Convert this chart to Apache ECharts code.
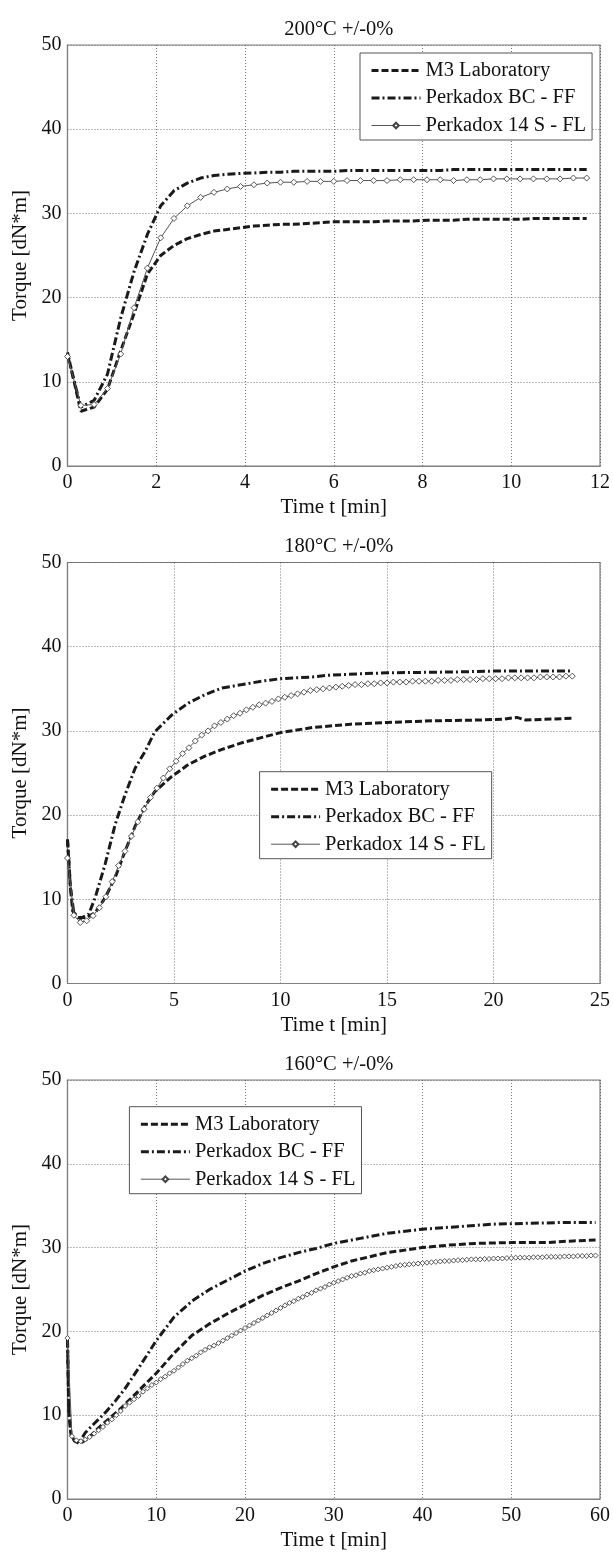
<!DOCTYPE html>
<html>
<head>
<meta charset="utf-8">
<script src="https://cdn.jsdelivr.net/npm/echarts@6/dist/echarts.min.js"></script>
<style>
html,body{margin:0;padding:0;background:#fff;}
#chart{width:613px;height:1552px;}
</style>
</head>
<body>
<div id="chart"></div>
<script>
// ---------- DATA ----------
const seriesNames = ['M3 Laboratory', 'Perkadox BC - FF', 'Perkadox 14 S - FL'];
const plotTitles = ['200°C +/-0%', '180°C +/-0%', '160°C +/-0%'];
const xMaxes = [12, 25, 60];
const xIntervals = [2, 5, 10];
const yTicks = [0, 10, 20, 30, 40, 50];

// Plot 1 (200 °C): samples every 0.3 min
const p1Step = 0.3;
const p1_M3 = [13.5, 6.5, 7.0, 9.1, 13.7, 18.1, 22.8, 25.0, 26.2, 27.0,
  27.5, 27.9, 28.1, 28.3, 28.5, 28.6, 28.7, 28.7, 28.8, 28.9,
  29.0, 29.0, 29.0, 29.0, 29.1, 29.1, 29.1, 29.2, 29.2, 29.2,
  29.3, 29.3, 29.3, 29.3, 29.3, 29.4, 29.4, 29.4, 29.4, 29.4];
const p1_BC = [13.2, 7.0, 7.8, 10.9, 17.6, 23.1, 27.5, 30.9, 32.7, 33.6,
  34.2, 34.5, 34.65, 34.75, 34.8, 34.9, 34.9, 35.0, 35.0, 35.0,
  35.0, 35.1, 35.1, 35.1, 35.1, 35.1, 35.1, 35.1, 35.1, 35.2,
  35.2, 35.2, 35.2, 35.2, 35.2, 35.2, 35.2, 35.2, 35.2, 35.2];
const p1_14S = [13.0, 7.2, 7.3, 9.2, 13.3, 18.8, 23.5, 27.1, 29.4, 30.9,
  31.9, 32.5, 32.9, 33.2, 33.4, 33.6, 33.7, 33.7, 33.8, 33.8,
  33.8, 33.9, 33.9, 33.9, 33.9, 34.0, 34.0, 34.0, 34.0, 33.9,
  34.0, 34.0, 34.1, 34.1, 34.1, 34.1, 34.1, 34.1, 34.2, 34.2];

// Plot 2 (180 °C)
const p2_M3_t = [0, 0.13, 0.24, 0.5, 0.9, 1.3, 1.77, 2.24, 2.7, 3.18, 3.65, 4.1, 4.9, 5.67, 6.45, 7.25, 8.2, 9.1, 10, 11.5, 13.3, 15, 17.2, 19.5, 20.5, 21.1, 21.5, 23.7];
const p2_M3_v = [17.1, 11.8, 8.6, 7.85, 7.85, 8.4, 10.2, 12.6, 15.7, 18.7, 21.1, 22.8, 24.6, 26.0, 27.0, 27.8, 28.6, 29.2, 29.8, 30.4, 30.8, 31.0, 31.2, 31.3, 31.4, 31.6, 31.3, 31.5];
const p2_BC_t = [0, 0.13, 0.3, 0.6, 1.0, 1.3, 1.77, 2.24, 2.7, 3.18, 3.65, 4.1, 4.9, 5.67, 6.45, 7.25, 8.2, 9.1, 10, 11.5, 12.2, 13.9, 15, 18.2, 20, 23.7];
const p2_BC_v = [17.1, 11.5, 8.3, 7.7, 8.25, 10.2, 14.2, 18.9, 22.4, 25.6, 27.6, 29.9, 31.9, 33.3, 34.3, 35.1, 35.5, 35.9, 36.2, 36.4, 36.6, 36.8, 36.9, 37.0, 37.1, 37.1];
const p2Step = 0.3;
const p2_14S = [14.9, 8.1, 7.25, 7.45, 8.05, 9.0, 10.3, 12.1, 14.0, 15.7,
  17.5, 19.2, 20.7, 22.1, 23.2, 24.4, 25.5, 26.4, 27.3, 28.0,
  28.8, 29.5, 30.0, 30.6, 31.0, 31.4, 31.8, 32.1, 32.5, 32.8,
  33.1, 33.3, 33.5, 33.8, 34.0, 34.2, 34.4, 34.6, 34.8, 34.9,
  35.0, 35.1, 35.2, 35.3, 35.4, 35.5, 35.5, 35.6, 35.6, 35.7,
  35.7, 35.8, 35.8, 35.8, 35.9, 35.9, 35.9, 35.9, 36.0, 36.0,
  36.0, 36.1, 36.1, 36.1, 36.1, 36.2, 36.2, 36.2, 36.2, 36.3,
  36.3, 36.3, 36.3, 36.3, 36.4, 36.4, 36.4, 36.4, 36.5, 36.5];

// Plot 3 (160 °C)
const p3_M3_t = [0, 0.15, 0.4, 0.8, 1.4, 2.4, 3.5, 4.6, 6, 8, 10, 12, 14, 16, 18, 20, 22, 24, 26, 28, 30, 32, 34, 36, 38, 40, 43, 46, 50, 54, 57, 59.5];
const p3_M3_v = [19.0, 10.5, 7.6, 6.9, 6.6, 7.3, 8.5, 9.5, 10.8, 12.9, 15.0, 17.4, 19.5, 20.9, 22.1, 23.2, 24.3, 25.2, 26.0, 26.9, 27.7, 28.4, 28.9, 29.4, 29.7, 30.0, 30.3, 30.5, 30.6, 30.6, 30.8, 30.9];
const p3_BC_t = [0, 0.15, 0.4, 0.8, 1.4, 2, 3.1, 4.25, 5.4, 6.5, 8, 10, 12, 14, 16, 18, 20, 22, 24, 26, 28, 30, 33, 36, 40, 44, 48, 52, 56, 59.5];
const p3_BC_v = [19.0, 10.5, 7.6, 7.0, 6.9, 7.9, 9.1, 10.3, 11.7, 13.2, 15.6, 18.9, 21.7, 23.6, 25.0, 26.1, 27.2, 28.1, 28.8, 29.4, 29.9, 30.5, 31.1, 31.7, 32.2, 32.5, 32.8, 32.9, 33.0, 33.0];
const p3Step = 0.5;
const p3_14S = [19.2, 7.5, 7.0, 6.9, 7.1, 7.4, 7.8, 8.2, 8.6, 9.1,
  9.5, 10.0, 10.5, 11.1, 11.5, 11.9, 12.3, 12.8, 13.2, 13.6,
  13.9, 14.3, 14.6, 15.0, 15.3, 15.7, 16.1, 16.5, 16.8, 17.1,
  17.5, 17.8, 18.1, 18.3, 18.6, 18.9, 19.2, 19.5, 19.8, 20.1,
  20.4, 20.7, 21.0, 21.3, 21.6, 21.9, 22.2, 22.5, 22.8, 23.1,
  23.4, 23.6, 23.9, 24.1, 24.4, 24.6, 24.9, 25.1, 25.3, 25.6,
  25.8, 26.0, 26.2, 26.4, 26.6, 26.7, 26.9, 27.0, 27.2, 27.3,
  27.4, 27.5, 27.6, 27.7, 27.8, 27.9, 27.95, 28.0, 28.05, 28.1,
  28.15, 28.2, 28.25, 28.3, 28.35, 28.4, 28.4, 28.45, 28.5, 28.5,
  28.55, 28.6, 28.6, 28.6, 28.65, 28.65, 28.7, 28.7, 28.7, 28.75,
  28.75, 28.8, 28.8, 28.8, 28.8, 28.85, 28.85, 28.85, 28.9, 28.9,
  28.9, 28.9, 28.95, 28.95, 28.95, 29.0, 29.0, 29.0, 29.05, 29.05];

// ---------- BUILD ----------
const FONT = '"Liberation Serif", "Times New Roman", serif';
const stepped = (vals, step) => vals.map((v, i) => [+(i * step).toFixed(3), v]);
const paired = (ts, vs) => ts.map((t, i) => [t, vs[i]]);

const plotData = [
  [stepped(p1_M3, p1Step), stepped(p1_BC, p1Step), stepped(p1_14S, p1Step)],
  [paired(p2_M3_t, p2_M3_v), paired(p2_BC_t, p2_BC_v), stepped(p2_14S, p2Step)],
  [paired(p3_M3_t, p3_M3_v), paired(p3_BC_t, p3_BC_v), stepped(p3_14S, p3Step)]
];

const gridTops = [45, 562.5, 1080];
const gridH = 421;
const plotLeft = 67.5, plotRight = 600;
const legendPos = [[360, 53], [259.6, 771.7], [129.4, 1106.7]];
const markerSizes = [6, 6, 5];
const INK = '#1a1a1a';
const DASH = [7, 3];
const DASHDOT = [8, 3, 2, 3];

const grids = [], xAxes = [], yAxes = [], titles = [], legends = [], series = [];
for (let i = 0; i < 3; i++) {
  grids.push({
    left: plotLeft, width: plotRight - plotLeft, top: gridTops[i], height: gridH,
    show: true, borderColor: '#808080', borderWidth: 1.2, containLabel: false
  });
  xAxes.push({
    gridIndex: i, type: 'value', min: 0, max: xMaxes[i], interval: xIntervals[i],
    name: 'Time t [min]', nameLocation: 'middle', nameGap: 31,
    nameTextStyle: { fontFamily: FONT, fontSize: 21, color: '#111' },
    axisLine: { show: true, lineStyle: { color: '#808080', width: 1.2 } },
    axisTick: { show: false },
    axisLabel: { margin: 7, fontFamily: FONT, fontSize: 20, color: '#111' },
    splitLine: { show: true, lineStyle: { type: [1, 2], color: '#555', width: 0.8 } }
  });
  yAxes.push({
    gridIndex: i, type: 'value', min: yTicks[0], max: yTicks[yTicks.length - 1], interval: 10,
    name: 'Torque [dN*m]', nameLocation: 'middle', nameGap: 35,
    nameTextStyle: { fontFamily: FONT, fontSize: 21, color: '#111' },
    axisLine: { show: true, lineStyle: { color: '#808080', width: 1.2 } },
    axisTick: { show: false },
    axisLabel: { margin: 6, fontFamily: FONT, fontSize: 20, color: '#111' },
    splitLine: { show: true, lineStyle: { type: [1, 2], color: '#555', width: 0.8 } }
  });
  titles.push({
    text: plotTitles[i], left: (plotLeft + plotRight) / 2, top: gridTops[i] - 31, textAlign: 'center',
    textStyle: { fontFamily: FONT, fontSize: 20.5, fontWeight: 'normal', color: '#111' }
  });
  legends.push({
    show: true, orient: 'vertical', left: legendPos[i][0], top: legendPos[i][1],
    data: [
      { name: seriesNames[0], itemStyle: { opacity: 0 }, lineStyle: { width: 3, color: INK, type: DASH } },
      { name: seriesNames[1], itemStyle: { opacity: 0 }, lineStyle: { width: 3, color: INK, type: DASHDOT } },
      { name: seriesNames[2], lineStyle: { width: 1, color: '#555' } }
    ],
    backgroundColor: '#fff', borderColor: '#555', borderWidth: 1,
    padding: [6, 6, 3, 10], itemWidth: 49, itemHeight: 7, itemGap: 4.5,
    selectedMode: false,
    textStyle: { fontFamily: FONT, fontSize: 20.5, color: '#111', lineHeight: 23 },
    z: 10
  });
  const d = plotData[i];
  series.push({
    name: seriesNames[0], type: 'line', xAxisIndex: i, yAxisIndex: i, data: d[0],
    symbol: 'none', smooth: false, itemStyle: { color: INK },
    lineStyle: { color: INK, width: 3, type: DASH }, z: 3
  });
  series.push({
    name: seriesNames[1], type: 'line', xAxisIndex: i, yAxisIndex: i, data: d[1],
    symbol: 'none', smooth: false, itemStyle: { color: INK },
    lineStyle: { color: INK, width: 3, type: DASHDOT }, z: 3
  });
  series.push({
    name: seriesNames[2], type: 'line', xAxisIndex: i, yAxisIndex: i, data: d[2],
    symbol: 'diamond', symbolSize: markerSizes[i], showSymbol: true,
    lineStyle: { color: '#555', width: 1 },
    itemStyle: { color: '#fff', borderColor: '#444', borderWidth: 0.9 }, z: 4
  });
}

const chart = echarts.init(document.getElementById('chart'), null, { renderer: 'canvas' });
chart.setOption({
  animation: false,
  backgroundColor: '#fff',
  title: titles, grid: grids, xAxis: xAxes, yAxis: yAxes, legend: legends, series: series
});
</script>
</body>
</html>
